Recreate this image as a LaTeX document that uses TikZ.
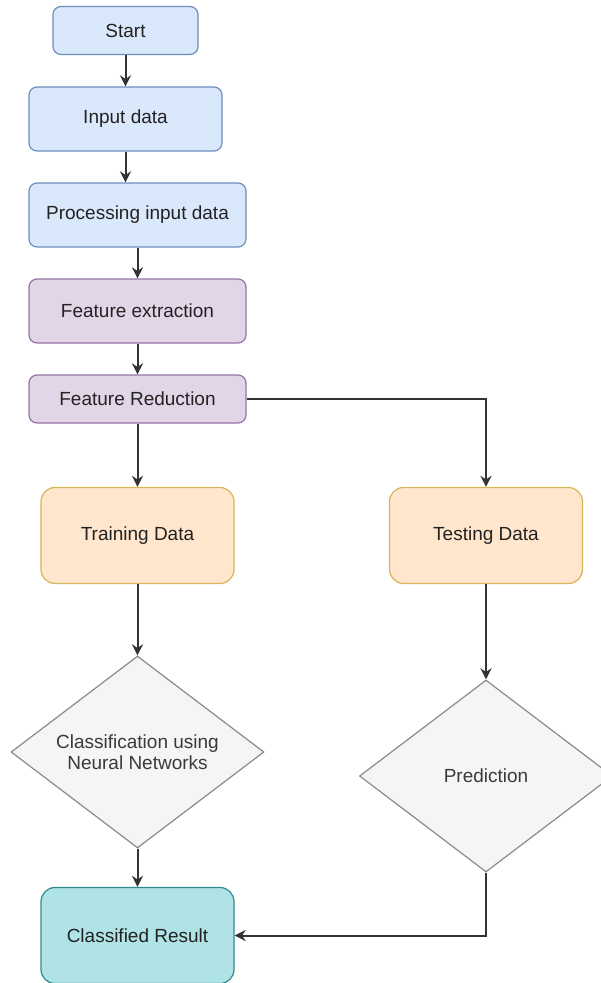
\documentclass[tikz,border=0pt]{standalone}
\usepackage{fontspec}
\setmainfont{Liberation Sans}
\usetikzlibrary{shapes.geometric,arrows.meta}

\definecolor{blueFill}{HTML}{DAE8FC}
\definecolor{blueLine}{HTML}{6C8EBF}
\definecolor{purpleFill}{HTML}{E1D5E7}
\definecolor{purpleLine}{HTML}{9673A6}
\definecolor{orangeFill}{HTML}{FFE6CC}
\definecolor{orangeLine}{HTML}{D6B656}
\definecolor{greyFill}{HTML}{F5F5F5}
\definecolor{greyLine}{HTML}{8A8A8A}
\definecolor{tealFill}{HTML}{B0E3E6}
\definecolor{tealLine}{HTML}{2E8A90}
\definecolor{ink}{HTML}{222222}
\definecolor{softink}{HTML}{3A3A3A}

\tikzset{
  basebox/.style={draw, line width=1.2pt, rounded corners=8pt, inner sep=0pt,
    text=ink, font=\fontsize{19}{21.5}\selectfont, align=center},
  bluebox/.style={basebox, fill=blueFill, draw=blueLine},
  purplebox/.style={basebox, fill=purpleFill, draw=purpleLine},
  orangebox/.style={basebox, fill=orangeFill, draw=orangeLine, rounded corners=14pt,
    minimum width=193pt, minimum height=96pt},
  tealbox/.style={basebox, fill=tealFill, draw=tealLine, rounded corners=14pt,
    minimum width=193pt, minimum height=96pt},
  decision/.style={diamond, draw=greyLine, fill=greyFill, line width=1.2pt,
    inner sep=0pt, minimum width=253pt, minimum height=192pt},
  dectext/.style={text=softink, font=\fontsize{19}{21.5}\selectfont, align=center},
  flow/.style={draw=black!80, line width=2pt,
    -{Stealth[length=11pt, width=11pt, inset=3.5pt]}}
}

\begin{document}
\begin{tikzpicture}[x=1pt, y=-1pt]
  \useasboundingbox (0,0) rectangle (601,983);

  % main column
  \node[bluebox, minimum width=145pt, minimum height=48pt] (start) at (125.5,30.5) {Start};
  \node[bluebox, minimum width=193pt, minimum height=64pt] (inp) at (125.5,119) {Input data};
  \node[bluebox, minimum width=217pt, minimum height=64pt] (proc) at (137.5,215) {Processing input data};
  \node[purplebox, minimum width=217pt, minimum height=64pt] (fext) at (137.5,311) {Feature extraction};
  \node[purplebox, minimum width=217pt, minimum height=48pt] (fred) at (137.5,399) {Feature Reduction};

  % two branches
  \node[orangebox] (train) at (137.5,535.5) {Training Data};
  \node[orangebox] (test) at (486,535.5) {Testing Data};

  \node[decision, label={[dectext]center:{Classification using\\Neural Networks}}] (cls) at (137.5,752) {};
  \node[decision, label={[dectext]center:{Prediction}}] (pred) at (486,776) {};

  \node[tealbox] (res) at (137.5,935.5) {Classified Result};

  % connectors
  \draw[flow] (start) -- (inp);
  \draw[flow] (inp.south) -- (inp.south |- proc.north);
  \draw[flow] (proc) -- (fext);
  \draw[flow] (fext) -- (fred);
  \draw[flow] (fred) -- (train);
  \draw[flow] (fred.east) -| (test.north);
  \draw[flow] (train) -- (cls.north);
  \draw[flow] (test.south) -- (pred.north);
  \draw[flow] (cls.south) -- (res.north);
  \draw[flow] (pred.south) |- (res.east);
\end{tikzpicture}
\end{document}
